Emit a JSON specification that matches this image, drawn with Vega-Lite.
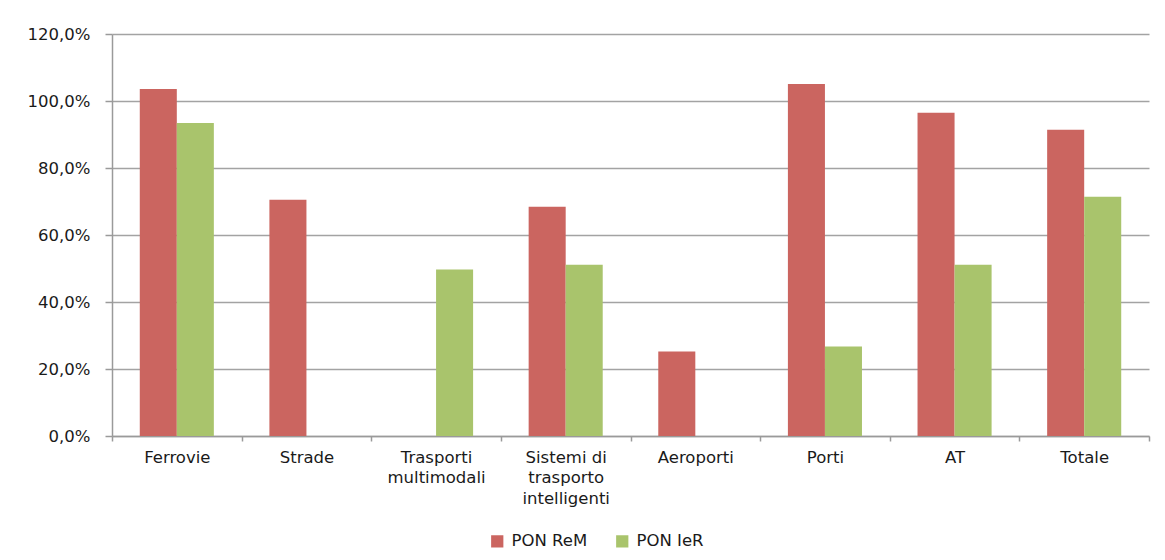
{
  "$schema": "https://vega.github.io/schema/vega-lite/v6.json",
  "autosize": "none",
  "width": 1037,
  "height": 402,
  "padding": {"left": 112, "top": 34, "right": 16, "bottom": 124},
  "background": "white",
  "config": {
    "locale": {"number": {"decimal": ",", "thousands": ".", "grouping": [3], "currency": ["€", ""]}},
    "view": {"stroke": null},
    "font": "DejaVu Sans",
    "axis": {
      "labelFont": "DejaVu Sans",
      "labelFontSize": 16.5,
      "labelColor": "#1a1a1a",
      "domainColor": "#9a9a9a",
      "domainWidth": 1.5,
      "tickColor": "#9a9a9a",
      "tickWidth": 1.5,
      "gridColor": "#a3a3a3",
      "gridWidth": 1.5,
      "title": null
    }
  },
  "data": {
    "values": [
      {"settore": "Ferrovie", "programma": "PON ReM", "quota": 1.036},
      {"settore": "Ferrovie", "programma": "PON IeR", "quota": 0.934},
      {"settore": "Strade", "programma": "PON ReM", "quota": 0.705},
      {"settore": "Strade", "programma": "PON IeR", "quota": null},
      {"settore": "Trasporti multimodali", "programma": "PON ReM", "quota": null},
      {"settore": "Trasporti multimodali", "programma": "PON IeR", "quota": 0.497},
      {"settore": "Sistemi di trasporto intelligenti", "programma": "PON ReM", "quota": 0.684},
      {"settore": "Sistemi di trasporto intelligenti", "programma": "PON IeR", "quota": 0.511},
      {"settore": "Aeroporti", "programma": "PON ReM", "quota": 0.252},
      {"settore": "Aeroporti", "programma": "PON IeR", "quota": null},
      {"settore": "Porti", "programma": "PON ReM", "quota": 1.051},
      {"settore": "Porti", "programma": "PON IeR", "quota": 0.267},
      {"settore": "AT", "programma": "PON ReM", "quota": 0.965},
      {"settore": "AT", "programma": "PON IeR", "quota": 0.511},
      {"settore": "Totale", "programma": "PON ReM", "quota": 0.914},
      {"settore": "Totale", "programma": "PON IeR", "quota": 0.714}
    ]
  },
  "mark": {"type": "bar"},
  "encoding": {
    "x": {
      "field": "settore",
      "type": "nominal",
      "sort": null,
      "scale": {"paddingInner": 0, "paddingOuter": 0},
      "axis": {
        "labelAngle": 0,
        "tickBand": "extent",
        "tickSize": 5,
        "labelPadding": 8,
        "labelBaseline": "top",
        "labelLineHeight": 20.5,
        "labelExpr": "datum.label == 'Trasporti multimodali' ? ['Trasporti', 'multimodali'] : datum.label == 'Sistemi di trasporto intelligenti' ? ['Sistemi di', 'trasporto', 'intelligenti'] : datum.label"
      }
    },
    "xOffset": {
      "field": "programma",
      "type": "nominal",
      "sort": ["PON ReM", "PON IeR"],
      "scale": {"paddingInner": 0, "paddingOuter": 0.75}
    },
    "y": {
      "field": "quota",
      "type": "quantitative",
      "scale": {"domain": [0, 1.2], "nice": false},
      "axis": {
        "values": [0, 0.2, 0.4, 0.6, 0.8, 1.0, 1.2],
        "format": ".1%",
        "tickSize": 7,
        "labelPadding": 15,
        "grid": true
      }
    },
    "color": {
      "field": "programma",
      "type": "nominal",
      "sort": ["PON ReM", "PON IeR"],
      "scale": {"domain": ["PON ReM", "PON IeR"], "range": ["#cb6560", "#a9c46c"]},
      "legend": {
        "title": null,
        "orient": "none",
        "direction": "horizontal",
        "legendX": 377,
        "legendY": 499,
        "padding": 0,
        "symbolType": "square",
        "symbolSize": 150,
        "symbolStrokeWidth": 0,
        "labelFont": "DejaVu Sans",
        "labelFontSize": 16.5,
        "labelColor": "#1a1a1a",
        "columnPadding": 26,
        "labelOffset": 6
      }
    }
  }
}
